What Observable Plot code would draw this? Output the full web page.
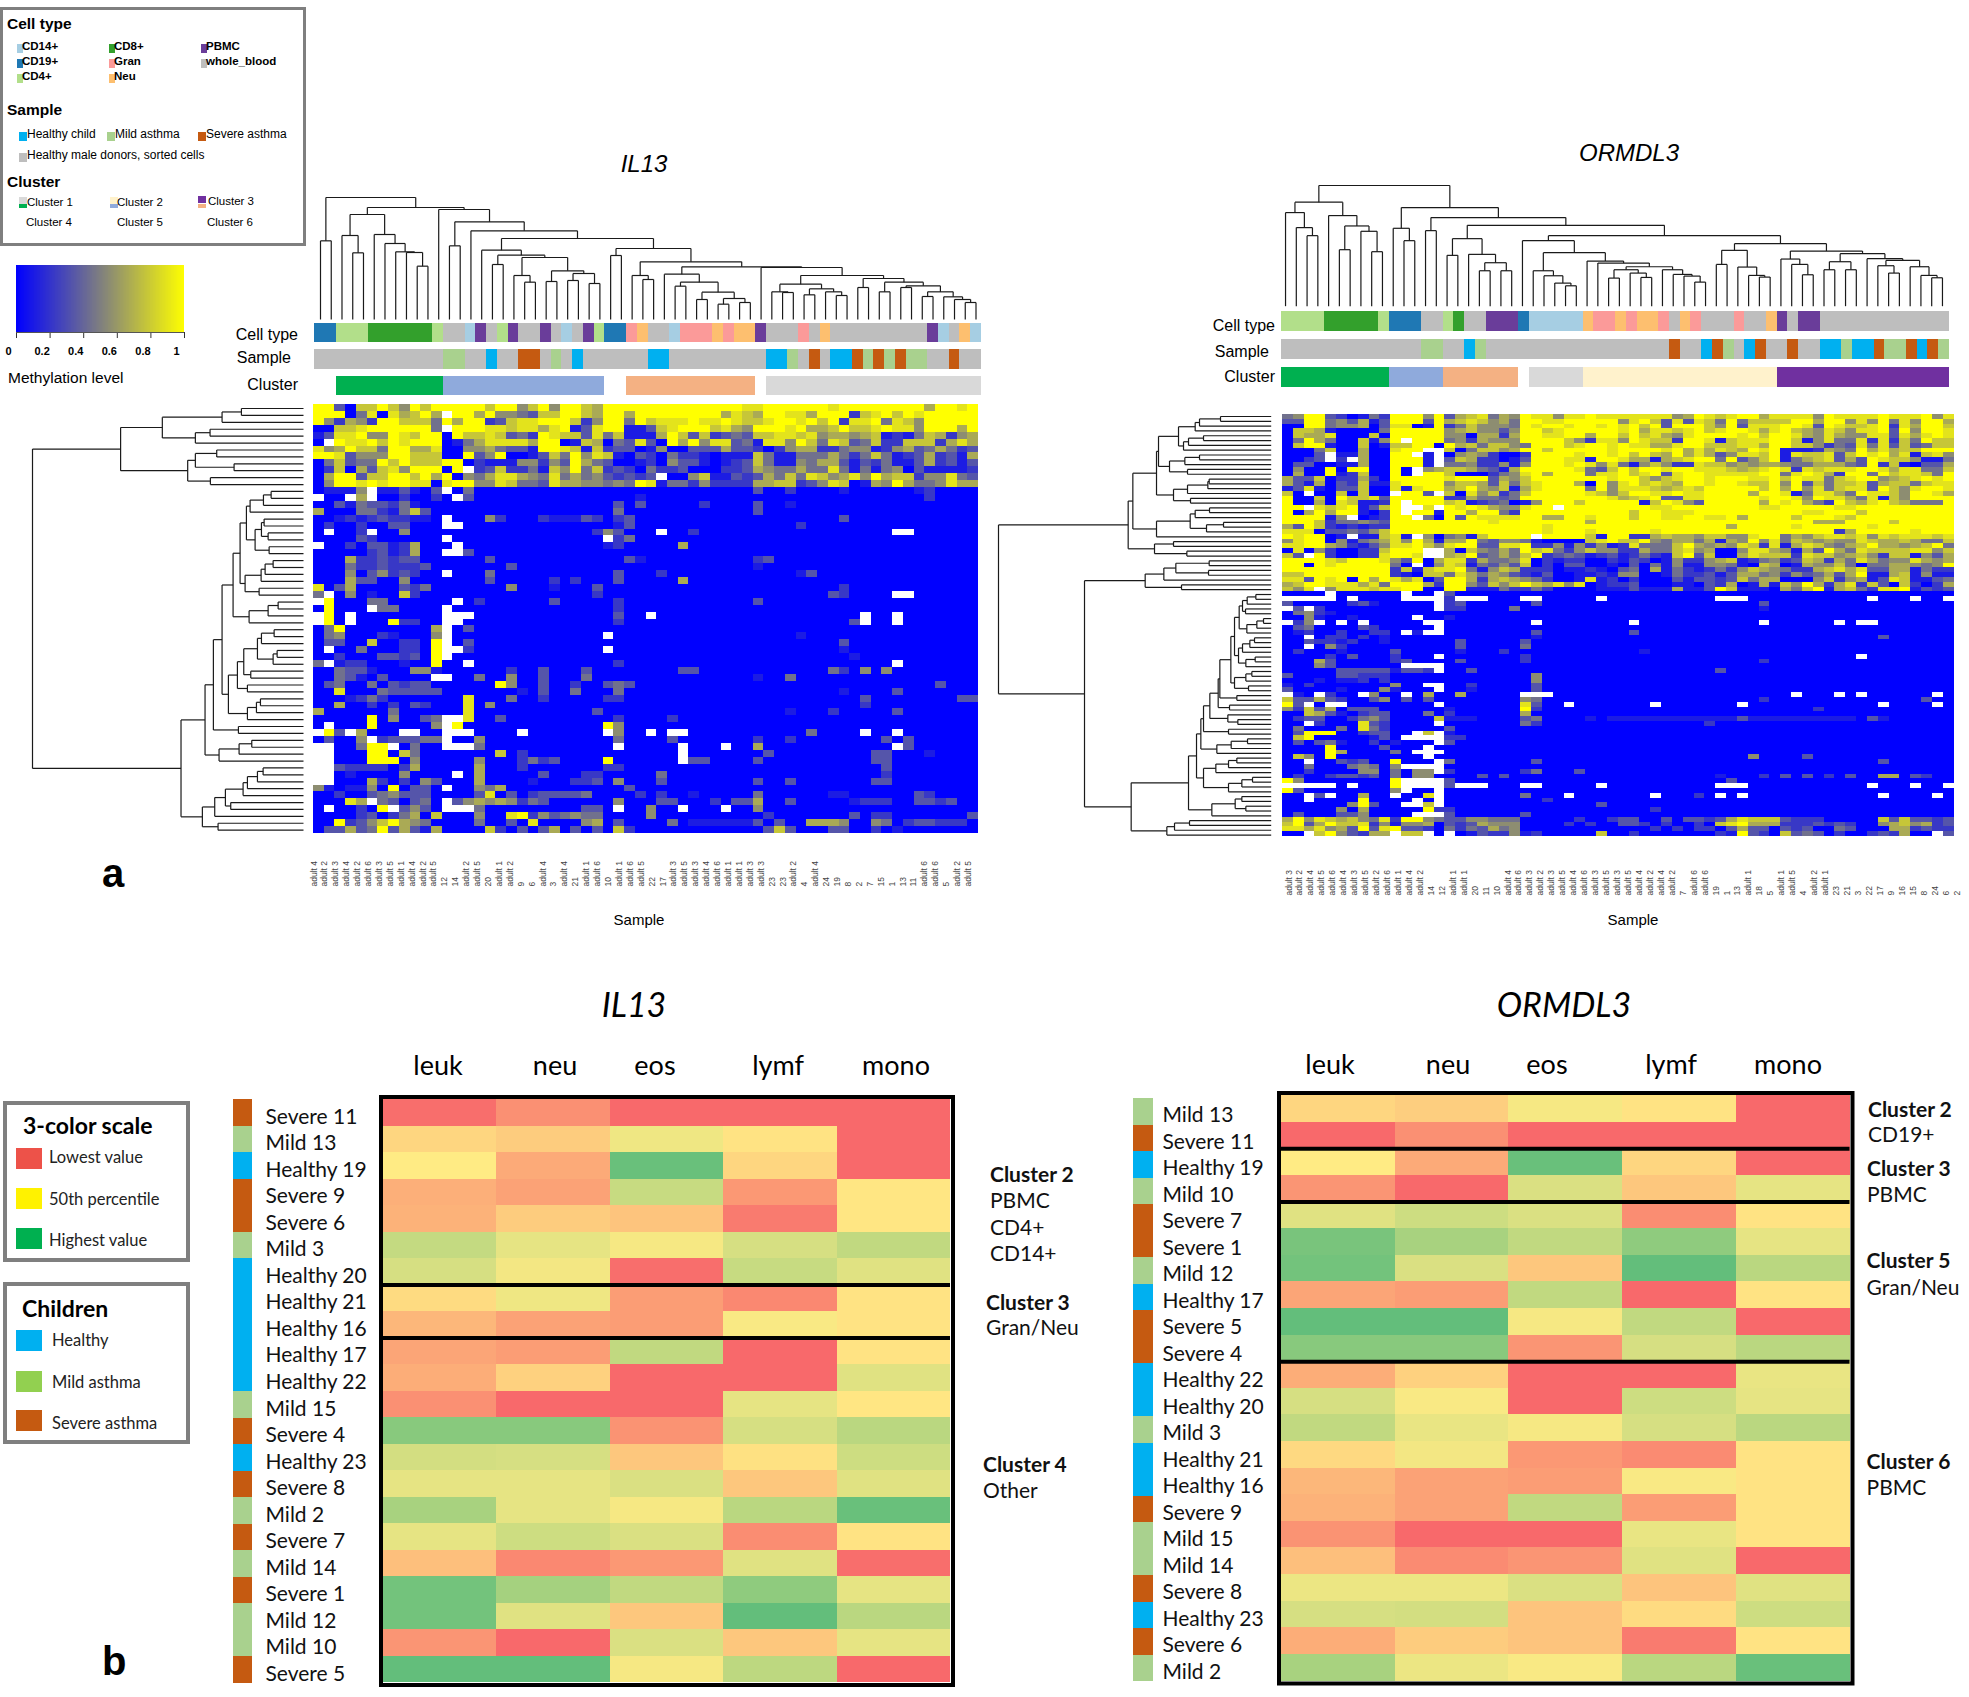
<!DOCTYPE html>
<html><head><meta charset="utf-8">
<script src="https://cdn.jsdelivr.net/npm/d3@7"></script>
<script src="https://cdn.jsdelivr.net/npm/@observablehq/plot@0.6"></script>
<style>html,body{margin:0;background:#fff}#root{position:relative;width:1969px;height:1697px;overflow:hidden;background:#fff;font-family:"Liberation Sans",sans-serif;color:#000}
#root svg{position:absolute;overflow:visible;background:transparent;max-width:none}</style>
</head><body><div id="root"></div>
<script>
// ---------- legend names and colours
const cellTypes=["CD14+","CD19+","CD4+","CD8+","Gran","Neu","PBMC","whole_blood"];
const cellColors=["#a6cee3","#1f78b4","#b2df8a","#33a02c","#fb9a99","#fdbf6f","#6a3d9a","#bebebe"];
const sampleTypes=["Healthy child","Mild asthma","Severe asthma","Healthy male donors, sorted cells"];
const sampleColors=["#00b0f0","#a9d18e","#c55a11","#bebebe"];
const clusterTypes=["Cluster 1","Cluster 2","Cluster 3","Cluster 4","Cluster 5","Cluster 6"];
const clusterColors=["#00b050","#8faadc","#f4b183","#d9d9d9","#fff2cc","#7030a0"];

// ---------- panel a, annotation tracks as [category, number of columns]
const il13CellRuns=[["CD19+",2],["CD4+",3],["CD8+",6],["CD4+",1],["whole_blood",2],["CD14+",1],["PBMC",1],["whole_blood",1],["CD4+",1],["PBMC",1],["whole_blood",2],["PBMC",1],["whole_blood",1],["CD14+",1],["whole_blood",1],["PBMC",1],["CD4+",1],["CD19+",2],["Gran",1],["Neu",1],["whole_blood",2],["CD14+",1],["Gran",3],["Neu",1],["Gran",1],["Neu",2],["PBMC",1],["whole_blood",3],["Gran",1],["whole_blood",1],["Neu",1],["whole_blood",9],["PBMC",1],["CD14+",1],["whole_blood",1],["Neu",1],["CD14+",1]];
const H="Healthy male donors, sorted cells",C="Healthy child",M="Mild asthma",S="Severe asthma";
const il13SampleRuns=[[H,12],[M,2],[H,2],[C,1],[H,2],[S,2],[H,1],[M,1],[H,1],[C,1],[H,6],[C,2],[H,9],[C,2],[M,1],[H,1],[S,1],[H,1],[C,2],[S,1],[M,1],[S,1],[M,1],[S,1],[M,2],[H,2],[S,1],[H,2]];
const il13ClusterRuns=[[null,2],["Cluster 1",10],["Cluster 2",15],[null,2],["Cluster 3",12],[null,1],["Cluster 4",20]];
const ormCellRuns=[["CD4+",4],["CD8+",5],["CD4+",1],["CD19+",3],["whole_blood",2],["CD4+",1],["CD8+",1],["whole_blood",2],["PBMC",3],["CD19+",1],["CD14+",5],["Neu",1],["Gran",2],["Neu",1],["Gran",1],["Neu",2],["Gran",1],["whole_blood",1],["Neu",1],["Gran",1],["whole_blood",3],["Gran",1],["whole_blood",2],["Neu",1],["PBMC",1],["whole_blood",1],["PBMC",2],["whole_blood",12]];
const ormSampleRuns=[[H,13],[M,2],[H,2],[C,1],[M,1],[H,17],[S,1],[H,2],[C,1],[S,1],[M,1],[H,1],[C,1],[S,1],[H,2],[S,1],[H,2],[C,2],[M,1],[C,2],[S,1],[M,2],[S,1],[C,1],[S,1],[M,1]];
const ormClusterRuns=[["Cluster 1",10],["Cluster 2",5],["Cluster 3",7],[null,1],["Cluster 4",5],["Cluster 5",18],["Cluster 6",16]];

// ---------- panel a, sample labels
const il13Samples=["adult 4","adult 2","adult 3","adult 4","adult 2","adult 6","adult 3","adult 5","adult 1","adult 4","adult 2","adult 5","12","14","adult 2","adult 5","20","adult 1","adult 2","9","6","adult 4","3","adult 4","21","adult 1","adult 6","10","adult 1","adult 6","adult 5","22","17","adult 3","adult 5","adult 3","adult 4","adult 6","adult 1","adult 1","adult 3","adult 3","23","23","adult 2","4","adult 4","24","19","8","2","7","15","1","13","11","adult 6","adult 6","5","adult 2","adult 5"];
const ormSamples=["adult 3","adult 2","adult 4","adult 5","adult 6","adult 4","adult 3","adult 5","adult 2","adult 6","adult 1","adult 4","adult 2","14","12","adult 1","adult 1","20","11","10","adult 4","adult 6","adult 3","adult 2","adult 3","adult 5","adult 4","adult 6","adult 3","adult 5","adult 3","adult 5","adult 4","adult 2","adult 4","adult 2","7","adult 6","adult 6","19","1","13","adult 1","18","5","adult 1","adult 5","4","adult 2","adult 1","23","21","3","22","17","9","16","15","8","24","6","2"];

// ---------- panel a, dendrograms: [merge height, child, child]; 0 is a leaf
const il13ColTree=[366,[236,0,0],[336,[315,[252,0,[200,0,0]],[255,0,[228,0,[203,0,[201,0,[160,0,0]]]]]],[330,0,[293,[221,0,0],[266,0,[243,[208,0,[193,[165,0,0],[186,[132,0,[112,0,0]],[146,[114,0,0],[138,[117,0,0],[108,0,0]]]]]],[213,[192,0,0],[173,[132,0,[120,0,0]],[158,[136,0,[112,[100,0,0],[82,[60,0,0],[63,[46,0,0],[51,0,0]]]]],[156,0,[132,[106,[83,0,[81,0,0]],[92,[74,0,0],[83,0,[72,0,0]]]],[123,[96,0,0],[112,[83,0,0],[101,[96,0,0],[83,[69,0,0],[68,0,[60,0,[51,0,0]]]]]]]]]]]]]]]]]];
const ormColTree=[361,[311,[280,0,[235,0,[211,0,0]]],[271,0,[240,[169,0,0],[224,0,[163,0,0]]]]],[295,[233,0,[196,0,0]],[265,[226,0,0],[242,[202,[152,0,0],[155,0,[130,[106,0,0],[106,0,0]]]],[211,[196,0,[160,[106,0,[91,0,[69,0,[61,0,0]]]],[135,0,[129,0,[118,[109,[84,0,0],[99,0,[86,0,0]]],[109,0,[95,0,[90,0,[72,0,0]]]]]]]]],[187,[167,[125,0,0],[117,0,[92,0,[87,0,0]]]],[165,[141,0,[125,0,[94,0,0]]],[157,[133,[109,0,0],[109,0,0]],[142,0,[137,[121,0,[99,0,0]],[118,0,[92,0,[85,0,0]]]]]]]]]]]]];
const il13RowTree=[812,[548,[423,[244,[186,0,0],0],[324,[280,0,0],0]],[347,[324,[260,0,0],[208,0,0]],[279,0,0]]],[367,[295,[270,[244,[211,[190,[171,[160,[120,[97,0,0],0],0],[145,[126,[118,0,0],[106,0,0]],[103,0,0]]],[175,[127,[115,[91,0,0],0],0],[133,0,0]]],[163,[106,[76,0,0],0],0]],[225,[198,[179,[138,[126,[88,0,0],0],[91,[79,0,0],0]],[158,0,0]],[168,0,0]],[168,[141,[129,0,0],0],0]]],[195,0,0]],[253,[193,[155,0,0],0],0]],[303,[266,[234,[181,[168,[138,[121,0,0],0],0],0],[218,0,0]],0],[256,0,0]]]];
const ormRowTree=[818,[429,[415,[344,[338,[278,[228,[215,[152,0,0],0],0],[263,[248,[203,0,0],0],0]],[305,[259,[215,0,0],0],[251,0,0]]],[293,[251,[190,[186,0,0],0],0],[242,0,0]]],[344,[243,[228,[185,0,0],0],[194,[143,0,0],0]],0]],[350,[293,0,0],[253,0,0]]],[560,[378,[322,[286,[186,0,0],[188,0,0]],0],[269,0,0]],[420,[248,[224,[211,[203,[184,[159,[154,[121,[110,[96,[86,[72,[46,0,0],0],[77,0,0]],[73,[43,[23,0,0],0],0]],[98,[86,[64,[50,0,0],0],0],[76,[48,0,0],0]]],[110,[76,[58,0,0],0],[68,0,0]]],[103,0,0]],[125,0,0]],[130,0,[100,0,0]]],[128,0,0]],[163,[120,[71,0,0],0],0]],[203,[166,[128,[103,0,0],0],0],[128,[88,[56,0,0],0],0]]],[178,[108,[88,0,0],[76,0,0]],0]],[313,[290,[245,0,0],0],0]]]];

// ---------- panel a, methylation levels: one digit per cell, 0 (=0) .. 9 (=1), "." missing
const il13TopLeft=[
"99 3 0 77 9 7 5 9 7 99999 7 99 5 7 9 5 99 7 6 9999",
"9 9 9 0 4 8 0 8 6 7 9 6 . 9 9 6 9 5 5 4 3 7 7 9 9 7 6 9 9 6 9",
"9 5 2 6 5 2 9 9 7 7 7 4 9 6 9 9 2 3 7 8 8 9 9 9 7 2 5 9 9 4 9",
"0 0 7 7 8 9 9 9 9 9 9 4 . 9 9 9 8 8 7 8 8 6 8 9 1 3 8 9 9 1 1",
"1 3 8 8 9 5 5 9 8 7 9 9 0 9 7 7 8 7 3 4 2 9 8 7 7 3 8 4 7 1 1",
"0 . 9 8 8 9 7 9 8 9 9 9 0 1 4 6 8 8 8 8 6 9 9 0 1 7 6 0 4 3 8",
"8 5 6 9 7 7 4 9 9 6 6 8 0 0 5 5 6 4 3 3 1 9 9 8 7 1 7 2 3 3 0",
"9 9 8 3 5 5 5 9 9 7 7 7 0 0 9 3 5 9 0 0 1 3 7 4 9 5 8 7 1 0 3",
"0 4 7 3 4 4 9 7 9 7 7 7 9 9 0 2 1 1 1 5 5 2 5 3 9 6 4 3 0 0 1",
"0 2 7 0 6 3 7 8 5 9 9 9 0 9 . 2 3 7 2 2 4 1 7 5 9 4 7 2 3 2 0",
"0 6 9 9 3 7 7 9 9 7 9 6 9 0 5 4 6 8 8 6 5 4 8 4 6 4 5 3 2 3 2",
"0 5 9 9 8 9 8 9 9 8 8 0 8 9 9 5 5 8 7 4 4 3 8 6 6 5 5 4 5 4 9"];
const il13TopRight=[
"9 9 9 9 9 9 9 9 9 8 8 9 9 9 9 9 9 8 9 9 9 9 9 9 9 9 6 9 9 8 9",
"9 9 9 9 9 9 9 6 8 7 6 9 9 8 8 6 9 9 9 2 7 8 9 7 9 8 9 9 9 9 9",
"7 8 8 8 9 8 8 9 8 7 7 8 9 9 8 9 7 9 2 8 8 9 4 8 7 5 9 9 9 9 9",
"3 7 8 9 9 9 7 8 6 5 9 9 9 8 9 6 6 7 9 7 7 8 9 8 8 5 9 9 9 6 9",
"1 6 9 7 3 7 2 3 4 3 7 7 8 8 7 8 5 6 6 5 6 7 1 2 1 4 7 6 2 5 6",
"3 0 9 6 9 5 8 8 3 4 1 8 8 5 9 7 4 8 7 3 4 7 2 2 7 7 7 2 6 8 6",
"1 5 0 0 3 3 3 6 3 3 2 0 2 5 6 6 2 2 4 5 5 1 2 5 6 3 4 6 4 2 3",
"2 0 4 2 2 1 0 1 1 1 7 4 1 1 4 4 4 6 4 2 4 7 4 1 2 3 6 2 3 1 6",
"2 0 5 3 3 1 0 1 2 3 7 4 1 1 5 4 6 6 3 1 3 2 4 1 1 3 6 2 3 1 3",
"4 2 2 3 0 0 0 2 2 3 6 5 4 4 6 4 4 8 4 1 4 1 4 5 0 3 1 1 1 1 2",
"3 . 0 0 5 7 1 1 3 2 3 6 4 7 4 8 7 5 6 8 5 9 6 7 7 2 5 5 8 4 3",
"8 1 4 4 2 5 2 2 2 2 6 6 7 7 2 3 5 8 7 0 1 6 5 9 6 4 4 5 8 6 6"];
// remaining rows are mostly blue: "column=digit" for every cell that is not 0
const il13Lower=[
"1=1 2=1 3=1 4=5 5=. 6=1 7=1 8=3 9=1 11=3 12=. 14=4 41=3 44=2 49=1 56=1 57=2",
"0=. 3=. 4=6 5=. 8=2 11=2 13=. 14=3 30=1 57=2",
"2=3 3=1 4=4 5=3 6=3 7=2 8=4 9=1 28=3 30=3 36=2 41=3 44=1",
"0=6 4=4 5=4 6=2 7=1 8=4 9=7 10=3 28=4 41=3",
"2=1 3=2 4=1 5=2 6=3 7=2 8=2 9=1 10=1 12=. 16=5 17=2 21=2 22=1 23=1 24=1 25=3 26=2 28=2 29=3 49=3",
"1=2 4=2 7=3 8=3 12=. 13=. 28=1 29=3 45=2",
"1=. 4=2 5=. 8=5 26=2 27=5 28=3 32=. 35=2 54=. 55=.",
"4=3 5=2 12=. 27=. 28=2 29=4",
"0=. 3=2 5=3 6=3 7=1 8=2 9=6 13=. 27=1 28=2 34=6",
"5=2 6=3 7=1 8=2 9=6 12=. 13=. 14=3",
"3=6 4=2 5=2 6=3 7=2 8=3 9=3 16=3 29=3 30=1 41=2 42=3",
"3=4 4=2 5=2 6=3 7=2 8=2 9=2 10=3 18=3 41=1",
"3=5 5=3 6=5 7=2 8=3 9=2 12=. 16=4 28=3 32=2 45=1 46=3",
"3=6 4=3 5=3 8=5 16=3 22=2 24=2 28=3 34=6",
"0=8 2=3 3=6 8=3 9=2 10=4 18=5 22=1 26=3 49=2",
"0=4 1=. 3=5 5=1 8=7 9=2 26=2 48=3 49=2 54=. 55=.",
"0=. 1=9 5=4 6=4 13=. 15=2 22=3 28=2 41=3",
"1=9 5=. 6=4 7=4 12=. 28=2",
"0=. 1=9 3=. 12=. 13=. 14=. 28=3 31=. 51=. 54=.",
"0=. 1=9 3=. 7=9 8=2 9=2 12=. 13=. 28=2 50=3 51=. 54=.",
"1=4 2=9 11=6 12=. 14=3",
"1=4 2=5 6=2 7=1 11=5 12=. 27=. 45=1",
"1=3 2=3 5=7 8=2 9=2 11=9 12=. 14=3 49=3",
"1=. 4=4 8=2 9=2 11=9 12=. 13=. 14=2 27=. 49=1",
"2=2 6=3 7=3 8=2 9=3 11=9 12=. 50=1",
"0=4 1=. 2=1 3=2 4=2 8=1 11=9 14=. 28=2 54=.",
"2=4 3=3 4=3 5=1 9=5 10=5 11=1 18=2 21=3 25=3 34=3 35=3 48=4 49=2 51=5 53=5",
"2=4 3=3 4=1 6=3 11=. 12=. 15=4 18=5 21=3 25=4 41=1 44=4",
"1=3 2=4 5=4 7=3 8=2 9=3 10=3 17=9 18=5 21=3 24=2 27=3 28=4 29=3 58=3",
"2=8 6=4 7=3 8=3 9=3 10=3 11=3 19=1 21=3 24=4 28=4 49=1 54=3",
"3=1 4=2 5=4 6=2 14=8 18=4 21=2 27=2 28=2 51=3 60=3 61=3",
"2=6 5=2 7=2 9=3 10=2 14=8 16=5 51=2",
"0=6 7=4 14=8 26=3 44=1 48=2 54=3",
"5=9 7=5 10=3 11=4 12=. 13=. 14=8 17=3 28=2 33=2",
"1=. 5=9 11=5 12=. 13=9 27=9 28=5",
"0=. 1=9 2=3 3=. 4=6 8=. 9=. 12=. 13=. 14=. 19=. 27=. 28=5 31=. 33=. 34=. 46=4 51=. 54=.",
"1=3 4=5 5=. 6=2 7=3 8=3 9=3 10=4 11=4 12=. 15=5 28=4 33=3 41=2 44=2 53=3 55=3",
"0=. 1=. 4=4 5=9 6=9 7=. 9=4 12=. 13=. 14=. 15=4 28=. 34=. 38=. 41=6 54=. 55=3",
"0=. 1=. 5=9 6=9 8=7 9=4 17=7 19=2 34=. 42=3 52=3 53=3 57=1",
"0=. 1=. 5=9 6=9 7=9 9=5 15=5 19=2 20=4 21=2 22=3 27=9 34=. 35=3 36=3 41=3 52=3 53=3",
"0=. 1=. 2=3 3=2 4=2 5=2 6=2 8=2 9=6 15=6 19=2 27=2 28=2 53=3",
"0=. 1=. 3=1 8=5 13=. 15=6 21=3 25=2 26=2 32=4 53=2",
"0=. 1=. 5=6 6=2 8=2 10=5 11=3 15=6 20=1 24=2 25=2 26=3 28=5 32=3 41=3 44=3 52=3 53=3",
"0=5 1=1 3=1 4=1 5=5 7=9 9=3 10=3 12=. 15=5 16=4 17=6 29=3",
"2=2 5=3 6=4 7=5 8=3 9=3 10=3 15=3 16=8 18=3 20=2 21=3 22=3 23=3 24=3 25=4 30=2 32=2 35=1 41=4 48=1 49=1 56=3 57=2",
"3=8 4=6 5=. 6=4 7=3 9=3 10=4 12=. 13=3 14=5 15=6 16=5 17=6 18=5 19=2 20=4 21=3 28=5 32=3 33=3 37=2 39=3 40=3 41=6 44=3 50=1 51=2 52=2 53=2 56=3 57=3 58=2 59=3",
"1=. 4=2 6=9 7=. 8=3 9=5 10=3 12=. 13=. 14=. 15=4 25=3 26=3 28=. 31=5 34=. 38=. 41=5",
"4=2 5=3 7=2 8=4 9=6 11=7 15=5 18=8 19=9 20=2 21=5 22=3 23=4 24=5 25=4 26=4 31=5 42=2 50=3 52=2 53=2 61=3",
"2=9 3=2 4=3 5=5 6=7 7=9 8=6 9=5 10=4 15=4 18=3 20=8 25=5 26=6 28=3 33=4 35=1 36=1 37=1 38=1 39=1 40=1 41=3 43=3 46=6 47=6 48=6 49=5 52=5 53=4 55=2 56=3 57=3 58=2 59=2 60=2",
"1=3 2=3 3=6 4=3 5=4 6=9 7=3 8=6 9=3 10=1 11=6 16=7 17=2 19=3 21=3 22=6 24=3 26=3 28=7 29=2 42=3 43=7 44=3 48=3 49=3 52=2 54=1"];

const ormTopLeft=[
"4 5 9 9 3 2 0 1 4 2 9 9 9 5 9 3 6 7 8 4 6 5 9 8 8 5 8 8 9 8 8",
"3 3 9 9 4 5 3 6 1 3 9 9 9 3 9 6 7 8 7 5 6 4 9 9 8 8 9 9 9 9 9",
"0 0 9 9 4 5 5 6 0 3 8 8 0 1 9 2 4 7 5 5 5 4 9 8 9 9 8 9 9 8 9",
"0 7 7 6 1 0 0 0 0 4 9 9 9 9 9 5 6 7 5 5 3 5 9 9 7 8 9 9 9 9 9",
"0 7 6 6 8 0 0 0 7 0 9 9 9 9 9 5 5 0 6 6 2 6 9 9 8 8 9 9 6 9 9",
"0 4 9 6 4 0 0 7 1 5 9 . 9 9 9 4 5 2 6 5 5 5 9 9 9 9 7 5 2 8 8",
"0 7 9 9 1 0 0 7 0 1 7 7 9 9 0 9 6 7 4 7 7 5 4 9 9 9 7 8 9 9 8",
"0 0 0 4 7 0 0 6 0 0 8 9 9 . . 7 0 4 7 7 5 6 9 9 7 9 9 9 9 9 8",
"0 0 0 3 . 1 1 6 0 0 9 9 . 1 . 0 5 6 5 2 0 0 2 9 9 9 9 8 9 9 8",
"0 0 2 3 . 2 . 6 0 0 9 9 9 1 . 3 7 6 2 2 0 1 3 9 9 9 8 8 1 9 9",
"0 3 3 0 0 1 1 6 0 0 9 9 9 1 . 4 4 5 2 2 5 1 5 9 9 9 8 9 8 5 8",
"0 5 0 0 9 0 9 9 0 0 9 0 . 5 6 7 7 6 4 3 1 6 9 9 9 9 9 8 4 3 7",
"0 6 0 0 9 1 2 7 0 0 9 0 . 9 9 7 0 0 0 2 4 5 8 9 6 9 9 9 4 8 8",
"6 3 3 7 0 2 2 6 2 0 9 9 9 9 9 8 9 9 9 3 6 5 7 9 9 9 9 9 9 9 8",
"6 3 1 6 0 3 2 7 1 1 8 9 9 9 9 5 7 7 6 3 7 4 7 8 9 9 9 6 0 9 5",
"1 3 8 1 0 3 3 7 0 0 8 1 8 9 9 6 7 9 6 5 7 1 6 8 9 9 9 9 4 9 5",
"7 0 . 0 0 7 0 7 0 0 . 9 9 3 . 7 0 8 5 7 2 4 7 9 9 9 9 9 8 7 5",
"9 0 0 7 0 9 7 7 8 3 9 9 9 9 9 2 2 6 4 4 3 4 9 9 9 9 9 9 9 9 8",
"9 0 0 6 0 8 7 1 1 2 9 . 9 9 9 7 8 1 2 3 4 0 1 5 9 9 9 7 9 9 9",
"9 9 . 8 7 8 9 1 3 7 9 . . 8 . 9 8 9 8 6 5 5 8 9 9 . 9 9 9 9 9",
"9 0 6 9 6 9 9 1 0 2 9 . 9 9 1 9 9 6 9 9 4 2 9 9 9 9 9 9 9 9 9",
"9 9 9 9 1 5 . 0 1 2 9 9 . 4 0 9 3 9 8 8 8 8 9 9 6 6 9 9 8 9 9",
"9 9 9 7 2 4 4 5 4 3 9 9 9 9 9 9 9 9 9 8 9 9 9 9 9 9 9 9 6 9 9",
"6 3 9 7 2 1 2 1 2 2 9 9 9 9 9 9 9 9 9 9 9 9 9 9 8 9 9 9 9 9 9",
"8 8 8 0 3 3 4 3 5 7 9 9 9 9 9 9 9 9 9 9 9 9 9 9 8 9 9 9 8 9 9",
"9 8 9 9 0 1 . 1 1 7 8 1 . 5 0 4 5 1 7 9 9 9 9 . 9 9 9 9 7 1 9",
"5 8 9 9 0 5 1 4 5 6 8 5 9 6 1 6 6 9 4 3 5 5 4 1 0 0 0 0 7 8 9",
"8 8 9 9 6 5 2 1 3 5 8 8 9 7 5 8 9 9 3 3 8 8 9 2 2 5 1 5 2 5 1",
"0 8 0 5 2 0 0 2 2 7 9 9 9 . . 6 0 7 5 4 6 4 9 7 8 4 2 5 7 5 5",
"7 3 . 9 2 0 0 2 2 8 9 9 8 . . 6 7 9 3 4 6 4 7 9 2 3 4 3 1 2 3",
"9 9 9 9 8 7 9 9 9 8 5 3 9 0 6 8 8 2 6 4 4 5 8 0 2 1 2 2 0 0 2",
"9 9 0 9 8 9 9 9 9 9 4 0 . 0 5 8 7 1 4 3 5 3 7 0 2 0 3 3 0 0 1",
"9 9 9 9 9 9 9 9 9 9 2 7 1 7 8 8 9 4 1 5 7 6 2 2 2 0 1 1 2 1 0",
"7 7 9 9 9 9 9 9 9 9 2 1 0 7 7 4 8 6 4 6 5 3 2 1 3 0 0 1 1 2 1",
"8 8 3 9 8 9 0 9 6 9 8 6 8 0 3 9 9 6 2 6 7 6 5 4 2 0 0 1 8 1 2",
"6 7 9 9 8 8 8 6 8 4 9 9 9 6 2 9 9 5 3 7 5 7 9 7 6 8 5 8 0 1 2",
"7 5 8 . 5 8 8 8 7 8 8 9 9 0 0 9 9 1 1 1 4 2 2 4 2 0 0 0 0 1 1"];
const ormTopRight=[
"8 8 8 8 8 5 6 9 8 7 8 9 9 6 8 8 8 8 5 9 8 8 8 8 9 8 8 8 9 5 8",
"5 8 9 7 3 8 3 8 7 4 9 4 7 7 7 7 9 9 6 9 9 5 8 5 9 4 8 5 9 9 6",
"8 9 7 9 3 9 9 9 7 5 9 3 8 8 8 9 9 8 3 9 8 7 7 8 9 2 8 6 9 9 7",
"8 9 6 8 8 7 8 9 7 8 9 9 8 6 8 9 7 6 5 8 7 5 8 8 9 3 9 5 9 9 8",
"7 9 7 8 6 5 8 9 9 9 9 8 9 7 9 9 8 6 5 8 6 5 5 8 8 3 8 6 8 9 8",
"5 9 8 7 7 2 9 9 8 1 7 8 8 8 9 9 7 1 5 8 4 4 8 2 8 2 7 4 9 7 7",
"9 8 8 6 6 8 9 9 7 7 7 8 8 6 9 9 7 7 5 2 4 3 8 4 8 3 7 3 4 7 7",
"9 9 9 9 8 9 6 8 6 8 7 6 9 8 9 1 1 1 2 6 5 4 9 6 8 6 7 7 9 9 9",
"9 7 9 7 6 9 6 8 6 3 5 8 8 7 9 1 8 7 7 8 3 7 9 8 9 6 8 1 7 8 5",
"8 6 6 1 6 7 8 9 9 4 9 3 5 7 9 1 4 6 7 8 3 6 3 9 8 7 7 5 1 1 4",
"4 1 5 7 5 2 2 8 7 7 5 6 5 6 6 5 4 4 6 6 6 4 3 9 2 7 1 0 3 3 6",
"9 7 9 9 8 9 9 8 8 8 7 6 7 8 9 8 2 8 7 8 8 8 9 9 8 6 8 8 4 4 7",
"9 7 8 9 3 8 9 9 8 8 8 8 8 9 9 4 8 9 8 6 2 9 9 4 9 7 8 8 7 4 9",
"9 9 7 5 7 8 9 9 8 9 9 9 8 8 9 7 9 8 8 4 7 8 9 9 5 6 7 8 9 8 9",
"8 9 7 8 7 6 9 9 8 9 9 8 7 7 9 5 9 3 7 4 7 7 8 3 6 7 7 4 7 8 8",
"8 8 8 7 6 7 8 7 9 9 9 9 9 7 9 6 9 5 8 4 7 8 8 3 9 7 5 8 9 9 8",
"7 9 9 8 8 9 8 8 9 9 9 9 6 9 9 8 1 4 8 8 6 4 9 8 8 7 5 9 9 8 6",
"6 7 8 9 3 3 8 8 9 9 9 9 9 8 9 9 8 5 9 8 8 6 4 8 1 7 5 9 9 9 9",
"9 9 1 7 9 8 5 3 9 9 9 9 9 6 9 8 9 6 4 2 9 7 6 8 9 7 6 4 4 4 9",
"9 9 9 8 8 9 9 9 9 9 9 9 9 8 8 9 9 9 9 9 8 8 9 9 9 9 9 9 9 9 9",
"9 7 9 9 8 8 8 9 9 9 9 9 9 9 9 9 9 8 8 9 9 9 7 9 9 9 9 9 9 9 9",
"9 7 9 9 8 8 9 9 8 8 9 6 9 9 9 9 7 9 9 9 8 7 9 9 9 9 9 9 9 9 9",
"9 9 9 9 9 9 9 9 9 9 9 9 9 9 9 9 9 9 6 6 6 9 9 9 9 7 9 9 9 9 9",
"9 9 9 9 9 9 9 9 9 9 6 9 9 9 9 9 8 9 9 9 9 9 9 8 9 9 9 9 9 9 9",
"9 9 9 8 9 9 9 9 9 9 9 9 9 9 9 9 9 9 9 9 2 6 9 9 9 9 9 8 9 9 9",
"9 2 2 6 7 6 6 5 7 7 5 5 8 9 9 4 6 5 7 8 8 7 8 5 8 7 8 8 8 7 8",
"7 7 9 5 4 6 6 4 6 1 6 5 9 5 8 4 7 6 5 6 5 5 8 7 6 6 7 6 4 4 7",
"2 8 4 4 4 7 9 6 5 6 5 8 7 2 8 1 6 8 7 5 4 6 7 9 6 6 5 6 7 9 4",
"2 2 6 4 4 7 8 5 6 0 0 5 8 8 6 5 1 6 3 9 6 4 8 7 7 7 7 8 8 5 7",
"1 2 4 2 1 7 9 3 7 0 0 6 8 7 7 7 2 8 7 7 5 6 7 5 2 7 7 1 5 3 6",
"1 3 2 0 1 5 2 2 5 6 7 1 2 4 5 2 3 7 6 2 6 4 8 6 4 5 5 8 6 5 6",
"0 3 0 4 1 5 1 1 5 5 4 1 0 7 6 0 1 6 5 5 7 4 0 4 4 6 6 5 4 5 9",
"3 4 0 6 1 4 2 1 2 4 2 5 7 6 5 4 2 2 6 7 8 6 8 3 3 6 6 1 4 2 2",
"5 5 0 0 1 4 2 2 3 1 3 6 6 4 5 2 5 3 4 6 3 6 9 1 1 6 7 1 5 1 1",
"0 2 0 0 0 3 1 3 3 2 3 7 4 6 6 0 0 0 5 7 2 5 6 1 3 8 7 1 1 3 4",
"2 3 0 0 0 1 1 0 3 2 6 0 1 6 1 7 5 9 6 2 6 8 2 7 3 0 7 2 0 2 6",
"1 3 1 1 1 6 1 1 3 9 7 1 1 1 0 6 4 7 9 1 6 7 4 2 8 8 9 1 3 2 3"];
const ormLower=[
"4=. 11=. 14=. 15=3",
"0=. 1=. 2=. 3=. 4=. 6=. 11=. 12=. 13=. 14=. 15=2 16=. 17=. 18=. 22=. 23=. 29=. 40=. 41=. 42=. 54=. 58=. 61=.",
"0=3 6=2 7=3 8=1 14=. 15=2 16=3 23=3 44=3",
"0=. 1=3 2=. 3=2 14=. 15=2 16=2 21=4 44=1",
"1=4 2=5 3=2 4=1",
"2=5 3=1 6=1 12=. 15=1",
"0=. 1=2 2=5 3=. 5=. 7=. 13=. 14=. 23=. 32=. 44=. 51=. 53=. 54=.",
"1=3 2=4 7=3 8=2 14=.",
"1=1 2=2 5=2 8=2 9=2 11=. 12=1 13=. 14=. 23=3 32=3",
"2=. 4=2 5=2 7=2 9=1 23=1 55=3",
"2=3 3=2 4=2 5=1 6=2 9=1 16=3 22=3",
"2=. 4=5 5=2 16=3 22=4",
"1=2 5=1 10=3 16=1 20=2 33=1",
"4=2 6=3 10=2 14=. 22=2 53=.",
"3=6 4=3 10=2 11=3 16=3 22=2 44=2",
"3=5 4=3 11=. 12=. 13=. 14=.",
"5=3 6=3 7=3 8=3 9=3 10=1 11=3 12=3 13=2 14=. 17=3 40=3",
"0=3 5=3 6=3 7=2 8=2 9=2 23=5",
"3=1 5=1 6=1 7=2 9=2 23=5",
"0=1 2=2 10=5 13=. 14=. 17=2 23=3",
"0=3 5=1 9=5 10=1 14=. 17=1 23=3",
"0=. 1=1 3=. 4=2 7=. 8=5 11=. 13=6 16=6 22=. 23=. 24=. 47=. 51=. 53=. 60=.",
"0=7 1=3 2=3 3=6 4=3 5=2 8=3 9=5 11=3 13=3 22=5 23=4 44=2 59=3",
"0=9 1=3 2=. 4=. 5=. 14=. 22=8 23=3 26=. 34=. 42=. 55=. 60=.",
"0=5 1=2 2=7 3=3 4=6 6=3 7=3 8=3 15=1 22=9 23=2 49=2",
"2=7 3=6 4=3 5=1 7=2 8=3 9=3 13=4 15=2 22=6",
"1=2 2=3 3=3 6=2 7=4 8=5 9=3 14=7 15=1 16=1 17=1 22=3 23=4 28=1 30=1 31=1 32=1 33=1 34=1 35=1 36=1 37=1 38=1 39=1 40=1 41=1 42=3 43=1 44=1 45=1 46=1 47=1 48=1 49=1 50=1 51=1 52=1 54=3 55=1",
"2=. 3=2 7=8 8=3 9=2 14=. 22=4 23=2 39=2",
"1=4 5=4 7=8 8=4 9=2 15=3",
"1=3 2=9 3=9 4=9 7=2 8=3 9=3 12=. 13=7 14=. 15=1",
"1=7 2=9 8=1 9=3 11=. 12=. 13=. 14=. 15=2 16=2",
"1=3 3=3 4=4 5=1 8=2 10=1 14=. 15=3",
"4=9 9=3 13=.",
"4=9 5=6 10=4 12=. 13=. 14=.",
"1=7 2=5 4=9 13=. 43=5 48=3",
"2=. 5=3 6=2 7=3 10=9 14=. 15=4 23=3 55=3",
"2=4 6=4 7=5 8=4 10=5 11=. 12=. 13=. 14=.",
"2=2 7=5 8=5 10=4 12=5 13=5 14=. 15=2 22=2 23=4 27=3",
"1=2 4=2 5=3 6=3 7=2 8=3 10=4 12=5 13=5 18=3 20=3 40=1 44=2 46=3 48=3 50=2 52=3 55=6 56=6 58=3 59=2",
"0=9 1=5 10=9 11=. 12=. 13=. 14=. 15=3 41=3",
"0=. 1=. 2=. 3=. 4=. 6=. 10=9 11=. 12=. 13=. 14=. 15=3 16=. 17=. 18=. 22=. 23=. 29=. 40=. 41=. 42=. 54=. 58=. 61=.",
"0=9 1=3 10=5 11=. 14=.",
"2=. 3=3 4=. 7=6 10=. 13=8 14=. 22=4 26=. 34=. 38=2 40=. 42=. 55=. 60=.",
"2=. 7=9 12=. 14=. 24=2",
"6=5 7=9 8=3 11=. 12=. 13=7 14=. 29=3",
"5=5 7=6 13=9 14=2 15=2 34=2",
"1=3 5=3 6=3 7=5 12=. 13=. 14=. 15=3 22=3",
"0=6 1=9 2=5 3=8 4=7 5=6 6=7 7=5 8=4 9=8 10=2 11=9 12=9 13=5 14=4 15=3 16=3 17=5 18=5 19=4 20=4 21=4 27=2 30=2 31=3 32=3 35=3 37=3 38=3 39=2 40=3 41=6 42=8 43=7 44=7 45=7 46=3 47=2 48=2 49=2 55=7 56=3 57=7 58=3 59=3 60=2 61=3",
"0=7 1=9 2=3 3=6 4=9 5=7 6=7 7=8 8=2 9=5 10=1 11=5 12=5 13=6 15=3 16=2 17=3 18=6 19=5 20=5 21=5 26=2 28=2 31=3 32=3 33=2 35=2 38=2 40=7 41=8 42=9 43=6 44=6 45=6 46=2 47=2 48=2 49=3 50=2 51=3 52=2 55=5 56=6 57=7 58=5 59=6 60=2 61=3",
"0=8 1=8 2=6 3=8 4=5 5=6 6=3 7=9 8=3 9=8 10=9 11=3 12=3 13=2 15=4 16=2 17=4 18=3 19=6 20=4 21=5 34=2 36=2 38=2 39=2 41=3 42=6 43=3 44=3 46=3 47=2 48=3 51=4 52=3 56=6 57=6 58=2 59=3 60=2 61=2",
"2=. 3=7 4=9 5=5 6=3 7=2 8=6 9=6 10=. 11=7 12=7 13=. 15=. 17=1 18=3 19=2 20=2 21=5 22=1 23=2 29=7 32=2 40=2 41=1 42=9 43=3 44=2 46=7 47=3 48=4 49=3 51=2 54=2 55=3 56=2 57=6 60=. 61=3"];

// ---------- panel b
const columns=["leuk","neu","eos","lymf","mono"];
const il13Children=["Severe 11","Mild 13","Healthy 19","Severe 9","Severe 6","Mild 3","Healthy 20","Healthy 21","Healthy 16","Healthy 17","Healthy 22","Mild 15","Severe 4","Healthy 23","Severe 8","Mild 2","Severe 7","Mild 14","Severe 1","Mild 12","Mild 10","Severe 5"];
const il13Ranks=[[.02,.15,0,0,0],[.42,.38,.55,.47,0],[.5,.25,.98,.42,0],[.27,.22,.68,.18,.48],[.28,.38,.35,.07,.48],[.69,.58,.53,.63,.7],[.63,.54,.02,.68,.6],[.44,.55,.2,.12,.47],[.3,.22,.2,.52,.47],[.23,.2,.7,0,.47],[.26,.4,0,0,.6],[.15,0,0,.58,.48],[.88,.88,.16,.63,.72],[.64,.63,.36,.46,.66],[.58,.58,.62,.36,.6],[.78,.58,.53,.72,.98],[.58,.66,.62,.14,.47],[.33,.12,.18,.6,.02],[.95,.79,.7,.86,.58],[.95,.6,.36,1,.72],[.17,0,.62,.36,.58],[1,1,.53,.71,0]];
const il13Breaks=["Healthy 21","Healthy 17"];
const ormChildren=["Mild 13","Severe 11","Healthy 19","Mild 10","Severe 7","Severe 1","Mild 12","Healthy 17","Severe 5","Severe 4","Healthy 22","Healthy 20","Mild 3","Healthy 21","Healthy 16","Severe 9","Mild 15","Mild 14","Severe 8","Healthy 23","Severe 6","Mild 2"];
const ormRanks=[[.42,.39,.53,.47,0],[0,.15,0,0,0],[.5,.25,.98,.42,0],[.17,0,.62,.36,.58],[.6,.66,.62,.14,.47],[.93,.78,.7,.86,.58],[.95,.62,.36,1,.72],[.23,.2,.7,0,.47],[1,1,.53,.7,0],[.88,.88,.17,.63,.72],[.26,.4,0,0,.57],[.63,.52,0,.66,.58],[.7,.57,.53,.63,.72],[.43,.54,.18,.13,.47],[.3,.22,.2,.52,.47],[.28,.22,.7,.2,.47],[.16,0,0,.57,.47],[.33,.13,.17,.6,0],[.56,.56,.62,.35,.6],[.63,.64,.35,.44,.66],[.26,.38,.35,.07,.47],[.78,.56,.52,.72,.98]];
const ormBreaks=["Healthy 19","Severe 7","Healthy 22"];
const childGroups=["Healthy","Mild","Severe"];
const childGroupColors=["#00b0f0","#a9d18e","#c55a11"];

// ---------- helpers
const root=document.getElementById("root");
function panel(left,top,width,height,options){
  const svg=Plot.plot({width,height,marginTop:0,marginRight:0,marginBottom:0,marginLeft:0,...options,
    style:{position:"absolute",left:left+"px",top:top+"px",overflow:"visible",background:"transparent",maxWidth:"none"}});
  root.append(svg);return svg;
}
function T(x,y,text,o={}){
  const d=document.createElement("div");d.textContent=text;
  const a=o.anchor==="end"?"-100%":o.anchor==="middle"?"-50%":"0";
  d.style.cssText=`position:absolute;left:${x}px;top:${y}px;transform:translate(${a},-50%);white-space:nowrap;line-height:1;font-size:${o.size||14}px;font-weight:${o.weight||400};font-style:${o.style||"normal"};font-family:${o.family||'"Liberation Sans"'};color:${o.color||"#000"}`;
  root.append(d);
}
function box(x,y,w,h,o={}){
  const d=document.createElement("div");
  d.style.cssText=`position:absolute;left:${x}px;top:${y}px;width:${w}px;height:${h}px;box-sizing:border-box;background:${o.fill||"transparent"};${o.border?`border:${o.bw||3}px solid ${o.border};`:""}`;
  root.append(d);
}
function flatten(tree){
  const segs=[];let leaf=0;
  (function walk(n){
    if(!n)return {p:leaf++,h:0};
    const a=walk(n[1]),b=walk(n[2]),p=(a.p+b.p)/2;
    segs.push({h1:n[0],p1:a.p,h2:n[0],p2:b.p},{h1:n[0],p1:a.p,h2:a.h,p2:a.p},{h1:n[0],p1:b.p,h2:b.h,p2:b.p});
    return {p,h:n[0]};
  })(tree);
  return {segs,leaves:leaf};
}
function colDendro(tree,x0,x1,yBase,yTop){
  const {segs,leaves}=flatten(tree);
  panel(x0,yTop,x1-x0,yBase-yTop,{x:{domain:[0,leaves-1],axis:null},y:{domain:[0,tree[0]],axis:null},
    marks:[Plot.link(segs,{x1:"p1",y1:"h1",x2:"p2",y2:"h2",stroke:"#1a1a1a",strokeWidth:1.2})]});
}
function rowDendro(tree,xRight,xRoot,y0,y1){
  const {segs,leaves}=flatten(tree);
  panel(xRoot,y0,xRight-xRoot,y1-y0,{x:{domain:[tree[0],0],axis:null},y:{domain:[0,leaves-1],range:[0,y1-y0],axis:null},
    marks:[Plot.link(segs,{x1:"h1",y1:"p1",x2:"h2",y2:"p2",stroke:"#1a1a1a",strokeWidth:1.2})]});
}
const expand=runs=>runs.flatMap(([c,n])=>Array(n).fill(c));
function tracks(left,top,width,height,cell,sample,cluster){
  const rows=[];
  [["Cell type",cell],["Sample",sample],["Cluster",cluster]].forEach(([t,runs])=>expand(runs).forEach((c,i)=>{if(c)rows.push({t,i,c})}));
  panel(left,top,width,height,{
    x:{type:"band",domain:d3.range(62),padding:0,round:false,axis:null},
    y:{type:"band",domain:["Cell type","Sample","Cluster"],paddingInner:.28,paddingOuter:0,round:false,axis:null},
    color:{type:"ordinal",domain:[...cellTypes,...sampleTypes,...clusterTypes],range:[...cellColors,...sampleColors,...clusterColors]},
    marks:[Plot.cell(rows,{x:"i",y:"t",fill:"c",shapeRendering:"crispEdges"})]});
}
function parseGrid(left,right,lower,nCols){
  const norm=(s,n)=>{s=s.replace(/\s/g,"");while(s.length<n)s+=s[s.length-1];return s.slice(0,n)};
  const grid=left.map((l,i)=>(norm(l,nCols-31)+norm(right[i],31)).split(""));
  lower.forEach(str=>{
    const row=Array(nCols).fill("0");
    str.split(/\s+/).filter(Boolean).forEach(t=>{const [c,v]=t.split("=");row[+c]=v});
    grid.push(row);
  });
  return grid;
}
function heat(left,top,width,height,grid){
  const cells=[];
  grid.forEach((r,y)=>r.forEach((v,x)=>{if(v!==".")cells.push({x,y,v:+v/9})}));
  panel(left,top,width,height,{
    x:{type:"band",domain:d3.range(grid[0].length),padding:0,round:false,axis:null},
    y:{type:"band",domain:d3.range(grid.length),padding:0,round:false,axis:null},
    color:{type:"linear",domain:[0,.5,1],range:["#0000ff","#7f7f7f","#ffff00"]},
    marks:[Plot.cell(cells,{x:"x",y:"y",fill:"v",shapeRendering:"crispEdges"})]});
}
function sampleLabels(left,top,width,height,labels){
  panel(left,top,width,height,{
    x:{type:"point",domain:d3.range(labels.length),padding:0,round:false,axis:null},
    marks:[Plot.text(labels,{x:(d,i)=>i,frameAnchor:"bottom",rotate:-90,textAnchor:"start",text:d=>d,fontSize:8.5,fill:"#444",fontFamily:"Liberation Sans"})]});
}
function excel(left,top,width,height,children,ranks,breaks){
  const rowH=height/children.length;
  const cells=children.flatMap((c,i)=>columns.map((k,j)=>({c,k,v:ranks[i][j]})));
  panel(left,top,width,height,{
    x:{type:"band",domain:columns,padding:0,round:false,axis:null},
    y:{type:"band",domain:children,padding:0,round:false,axis:null},
    color:{type:"linear",domain:[0,.5,1],range:["#f8696b","#ffeb84","#63be7b"]},
    marks:[Plot.cell(cells,{x:"k",y:"c",fill:"v",shapeRendering:"crispEdges"}),
      Plot.ruleY(breaks,{y:d=>d,dy:-rowH/2,stroke:"#000",strokeWidth:4}),
      Plot.frame({stroke:"#000",strokeWidth:4,inset:-2.5})]});
}
function strip(left,top,width,height,labelX,children){
  panel(left,top,width,height,{
    y:{type:"band",domain:children,padding:0,round:false,axis:null},
    color:{type:"ordinal",domain:childGroups,range:childGroupColors},
    marks:[Plot.cell(children,{y:d=>d,fill:d=>d.split(" ")[0],shapeRendering:"crispEdges"})]});
  panel(labelX,top,115,height,{
    y:{type:"band",domain:children,padding:0,round:false,axis:null},
    marks:[Plot.text(children,{y:d=>d,frameAnchor:"left",textAnchor:"start",dy:4,text:d=>d,fontSize:21,fontFamily:"Lato",fill:"#111"})]});
}

// ---------- draw panel a
colDendro(il13ColTree,319.5,975,319,197);
colDendro(ormColTree,1285,1942,305.7,185);
rowDendro(il13RowTree,303,32,408.3,830);
rowDendro(ormRowTree,1271,998.3,415.7,834.3);
tracks(314,323,667,72,il13CellRuns,il13SampleRuns,il13ClusterRuns);
tracks(1281,311,668,76,ormCellRuns,ormSampleRuns,ormClusterRuns);
heat(313.3,404,665,429,parseGrid(il13TopLeft,il13TopRight,il13Lower,62));
heat(1282,414,671.5,422,parseGrid(ormTopLeft,ormTopRight,ormLower,62));
sampleLabels(316,855,654.5,31,il13Samples);
sampleLabels(1291,865,668,30,ormSamples);

T(644,164,"IL13",{size:24,style:"italic",anchor:"middle"});
T(1629,153,"ORMDL3",{size:24,style:"italic",anchor:"middle"});
[["Cell type",298,335],["Sample",291,358],["Cluster",298,385],["Cell type",1275,325.7],["Sample",1269,351.7],["Cluster",1275,376.7]].forEach(([t,x,y])=>T(x,y,t,{size:16,anchor:"end"}));
T(639,918.5,"Sample",{size:15,anchor:"middle"});
T(1633,918.5,"Sample",{size:15,anchor:"middle"});
T(102,873,"a",{size:40,weight:700});
T(102,1661,"b",{size:40,weight:700});

// legend of panel a
box(0,7,306,239,{border:"#7f7f7f",bw:3});
T(7,24,"Cell type",{size:15.5,weight:700});
const ctPos=[[22,47],[22,62],[22,77],[114,47],[114,62],[114,77],[206,47],[206,62]];
cellTypes.forEach((t,i)=>{const [x,y]=ctPos[i];box(x-5,y-3,6,9,{fill:cellColors[i]});T(x,y,t,{size:11.5,weight:700})});
T(7,110,"Sample",{size:15.5,weight:700});
[[27,134],[115,134],[206,134],[27,155]].forEach(([x,y],i)=>{box(x-8,y-2,8,9,{fill:sampleColors[i]});T(x,y,sampleTypes[i],{size:12})});
T(7,182,"Cluster",{size:15.5,weight:700});
[[19,197,"#d9d9d9"],[110,197,"#fff2cc"],[198,196,"#7030a0"]].forEach(([x,y,c])=>box(x,y,8,7,{fill:c}));
[[19,204,"#00b050"],[110,204,"#8faadc"],[198,204,"#f4b183"]].forEach(([x,y,c])=>box(x,y,8,4,{fill:c}));
[[27,203],[117,203],[208,202],[26,223],[117,223],[207,223]].forEach(([x,y],i)=>T(x,y,clusterTypes[i],{size:11.5}));

// colour bar
const barStops=d3.range(0,1,.005), barTicks=[0,.2,.4,.6,.8,1];
panel(16,265,168,67,{
  x:{domain:[0,1],axis:null},y:{domain:[0,1],axis:null},
  color:{type:"linear",domain:[0,.5,1],range:["#0000ff","#7f7f7f","#ffff00"]},
  marks:[Plot.rect(barStops,{x1:d=>d,x2:d=>Math.min(1,d+.008),y1:0,y2:1,fill:d=>d,shapeRendering:"crispEdges"}),
    Plot.ruleX(barTicks,{x:d=>d,y1:0,y2:-.09,stroke:"#333"}),
    Plot.ruleY([0],{stroke:"#555"}),
    Plot.text(barTicks,{x:d=>d,y:-.28,dx:-8,text:d=>String(d),fontSize:11,fontWeight:700,fill:"#000",fontFamily:"Liberation Sans"})]});
T(8,378,"Methylation level",{size:15.5});

// ---------- draw panel b
T(634,1004,"IL13",{size:34,style:"italic",family:"Lato",anchor:"middle"});
T(1564,1004,"ORMDL3",{size:34,style:"italic",family:"Lato",anchor:"middle"});
excel(383,1099,567,583,il13Children,il13Ranks,il13Breaks);
excel(1281,1095,568.5,585.5,ormChildren,ormRanks,ormBreaks);
strip(233,1099,19,584,265,il13Children);
strip(1133,1098,20,583,1162,ormChildren);
[438,555,655,778,896].forEach((x,i)=>T(x,1064,columns[i],{size:27,family:"Lato",anchor:"middle"}));
[1330,1448,1547,1671,1788].forEach((x,i)=>T(x,1063,columns[i],{size:27,family:"Lato",anchor:"middle"}));
const notes=[[990,1173,"Cluster 2",1],[990,1199,"PBMC"],[990,1225.6,"CD4+"],[990,1252,"CD14+"],[986,1301,"Cluster 3",1],[986,1326,"Gran/Neu"],[983,1463,"Cluster 4",1],[983,1489,"Other"],
 [1868,1107.6,"Cluster 2",1],[1868,1133,"CD19+"],[1867,1166.5,"Cluster 3",1],[1867,1193,"PBMC"],[1866.6,1259,"Cluster 5",1],[1866.6,1286,"Gran/Neu"],[1866.6,1459.6,"Cluster 6",1],[1866.6,1486,"PBMC"]];
notes.forEach(([x,y,t,b])=>T(x,y,t,{size:21,family:"Lato",weight:b?700:400,color:"#111"}));

box(3,1101,187,161,{border:"#7f7f7f",bw:4});
T(23,1125,"3-color scale",{size:23,weight:700,family:"Lato"});
[[1148,"#ed5249","Lowest value",1157.4],[1188,"#fff200","50th percentile",1198.6],[1228,"#00b050","Highest value",1239.7]].forEach(([y,c,t,ty])=>{box(16,y,26,21,{fill:c});T(49,ty,t,{size:16.5,family:"Lato",color:"#222"})});
box(3,1282,187,162,{border:"#7f7f7f",bw:4});
T(22,1308,"Children",{size:23,weight:700,family:"Lato"});
[[1330,"#00b0f0","Healthy",1340],[1371,"#92d050","Mild asthma",1382],[1410,"#c55a11","Severe asthma",1423]].forEach(([y,c,t,ty])=>{box(16,y,26,21,{fill:c});T(52,ty,t,{size:16.5,family:"Lato",color:"#222"})});
</script>
</body></html>
